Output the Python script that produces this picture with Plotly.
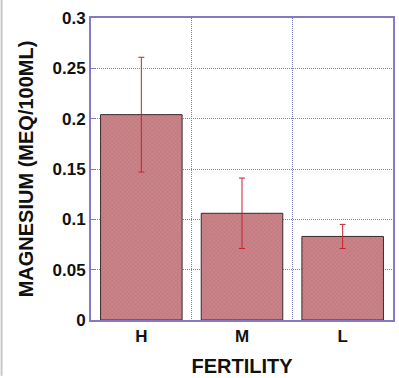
import plotly.graph_objects as go

# Soil magnesium by fertility class
fertility = ["H", "M", "L"]
magnesium = [0.204, 0.106, 0.083]
magnesium_err = [0.057, 0.035, 0.012]

y_ticks = [0, 0.05, 0.1, 0.15, 0.2, 0.25, 0.3]
y_tick_text = ["0", "0.05", "0.1", "0.15", "0.2", "0.25", "0.3"]

frame = "#8578c4"
grid = "#7f7fbf"
font_family = "Liberation Sans, Arial, sans-serif"

fig = go.Figure(
    go.Bar(
        x=fertility,
        y=magnesium,
        marker=dict(
            color="#c47a7e",
            line=dict(color="#3a2a2a", width=1),
            pattern=dict(shape="x", fgcolor="#a85a62", bgcolor="#c98489", size=3, solidity=0.25),
        ),
        error_y=dict(
            type="data",
            array=magnesium_err,
            color="#c8202e",
            thickness=1,
            width=3,
        ),
        width=0.81,
    )
)

fig.update_layout(
    width=399,
    height=378,
    margin=dict(l=91, r=4, t=18, b=56),
    paper_bgcolor="white",
    plot_bgcolor="white",
    showlegend=False,
    font=dict(family=font_family, color="#111111"),
    shapes=[
        dict(type="line", xref="paper", yref="paper",
             x0=-90 / 304, x1=-90 / 304, y0=-56 / 304, y1=1 + 18 / 304,
             line=dict(color="#c8c8c8", width=2)),
    ],
)

fig.update_xaxes(
    tickson="boundaries",
    showgrid=True,
    gridcolor=grid,
    griddash="1px,1px",
    gridwidth=1,
    showline=True,
    linecolor=frame,
    linewidth=2,
    mirror=True,
    ticks="",
    ticklabelstandoff=0,
    tickfont=dict(size=17, family=font_family, weight="bold"),
    title=dict(text="<b>FERTILITY</b>", font=dict(size=20, family=font_family), standoff=14),
)

fig.update_yaxes(
    range=[0, 0.3],
    tickvals=y_ticks,
    ticktext=y_tick_text,
    showgrid=True,
    gridcolor=grid,
    griddash="1px,1px",
    gridwidth=1,
    zeroline=False,
    showline=True,
    linecolor=frame,
    linewidth=2,
    mirror=True,
    ticks="inside",
    ticklen=5,
    tickcolor=frame,
    tickfont=dict(size=17, family=font_family, weight="bold"),
    title=dict(text="<b>MAGNESIUM (MEQ/100ML)</b>", font=dict(size=20, family=font_family), standoff=14),
)

fig.write_html("out.html")
